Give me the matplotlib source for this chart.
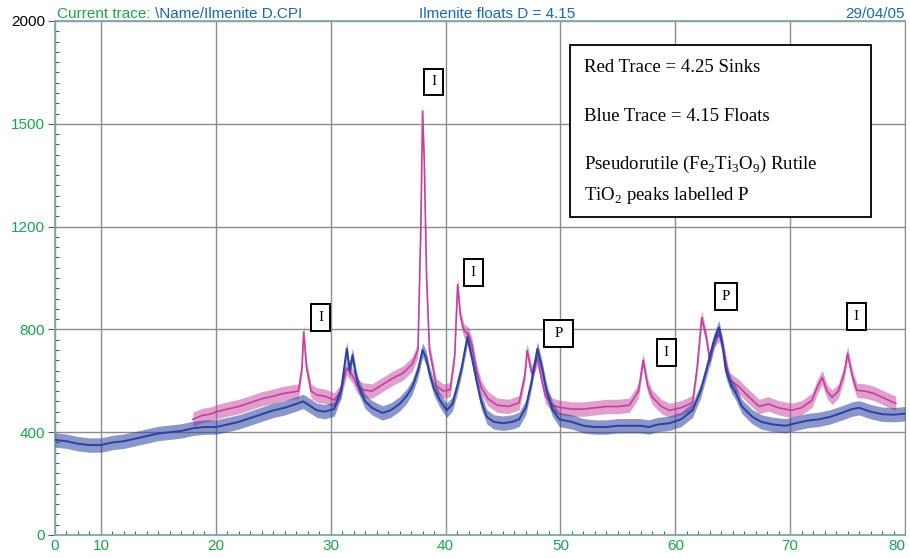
import matplotlib.pyplot as plt
from matplotlib.patches import Rectangle
import numpy as np

# ---- data (2-theta, counts) ----
blue_x = [6, 7, 8, 9, 10, 11, 12, 13, 14, 15, 16, 17, 18, 19, 20, 21, 22, 23, 24, 25,
          26, 27, 27.6, 28.3, 28.8, 29.5, 30.3, 30.9, 31.4, 31.65, 31.9, 32.2, 32.5, 33,
          33.6, 34.5, 35.2, 36, 36.6, 37.1, 37.6, 38.0, 38.3, 38.6, 39, 39.5, 40.1, 40.6,
          41, 41.4, 41.9, 42.3, 42.7, 43.1, 43.6, 44.2, 45, 45.8, 46.4, 47, 47.5, 48,
          48.4, 48.8, 49.3, 49.9, 51, 52, 53, 54, 55, 56, 57, 57.7, 58.5, 59.5, 60.5,
          61.5, 62.2, 62.7, 63.3, 63.8, 64.1, 64.4, 64.9, 65.3, 65.8, 66.7, 67.5, 68.5,
          69.6, 70.5, 71.5, 72.5, 73.5, 74.5, 75.4, 76, 77, 78, 79, 80]
blue_y = [370, 365, 355, 350, 350, 360, 365, 375, 385, 395, 400, 405, 415, 420, 420, 430,
          440, 455, 470, 485, 495, 510, 520, 500, 485, 480, 490, 560, 725, 640, 700, 620,
          570, 520, 495, 475, 485, 510, 540, 575, 640, 720, 690, 630, 570, 525, 485, 510,
          575, 650, 770, 690, 600, 520, 460, 440, 435, 440, 450, 497, 600, 725, 650, 560,
          490, 450, 440, 425, 420, 420, 425, 425, 425, 420, 430, 435, 450, 485, 560, 640,
          745, 808, 740, 640, 580, 550, 500, 460, 440, 430, 425, 435, 445, 450, 460, 475,
          490, 495, 480, 470, 468, 472]

red_x = [18, 18.8, 19.5, 20.1, 21, 22, 23, 24, 25, 25.8, 26.5, 27.2, 27.5, 27.65, 27.9,
         28.3, 28.8, 29.5, 30.3, 30.9, 31.4, 31.9, 32.3, 32.8, 33.6, 34.5, 35.4, 36.3,
         37.1, 37.6, 37.85, 38.0, 38.15, 38.35, 38.6, 39.2, 39.8, 40.4, 40.8, 41.05,
         41.3, 41.6, 42.0, 42.3, 42.7, 43.1, 43.7, 44.5, 45.5, 46.4, 46.9, 47.1, 47.5,
         48.0, 48.3, 48.7, 49.3, 49.9, 51, 52, 53, 54, 55, 56, 56.8, 57.2, 57.6, 58.0,
         58.8, 59.5, 60.5, 61.5, 61.9, 62.3, 62.7, 63.0, 63.4, 63.8, 64.1, 64.7, 65.6,
         66.1, 67.3, 68.1, 69, 70.1, 71, 71.9, 72.4, 72.8, 73.2, 73.65, 74.2, 74.7,
         75.0, 75.4, 75.8, 76.5, 77.3, 78.3, 79.2]
red_y = [450, 465, 470, 480, 490, 500, 515, 530, 540, 550, 555, 560, 650, 790, 650, 560,
         545, 540, 525, 560, 650, 620, 580, 565, 560, 585, 610, 630, 665, 720, 1200, 1650,
         1450, 1000, 720, 580, 560, 565, 700, 975, 850, 795, 780, 740, 640, 575, 530, 505,
         500, 515, 620, 718, 630, 690, 620, 540, 505, 497, 490, 490, 495, 500, 500, 505,
         560, 680, 580, 536, 500, 485, 495, 515, 650, 846, 770, 680, 760, 780, 745, 605,
         575, 551, 500, 510, 495, 485, 495, 524, 580, 613, 560, 536, 560, 630, 707, 620,
         563, 560, 551, 530, 512]

noise = 28  # half-width of the counting noise band

peak_labels = ["I", "I", "I", " P ", "I", "P", "I"]
peak_x = [29.13, 38.96, 42.43, 49.83, 59.22, 64.43, 75.74]
peak_y = [847, 1763, 1021, 784, 711, 928, 850]

x_ticks = [6, 10, 20, 30, 40, 50, 60, 70, 80]
x_ticklabels = ["0", "10", "20", "30", "40", "50", "60", "70", "80"]
y_ticks = [0, 400, 800, 1200, 1600, 2000]
y_ticklabels = ["0", "400", "800", "1200", "1500", "2000"]

legend_lines = ["Red Trace = 4.25 Sinks",
                "Blue Trace = 4.15 Floats",
                r"Pseudorutile (Fe$_\mathrm{2}$Ti$_\mathrm{3}$O$_\mathrm{9}$) Rutile",
                r"TiO$_\mathrm{2}$ peaks labelled P"]

GREEN = "#17a64b"
BLUE_TXT = "#1a66b8"
RED = "#c4409e"
BLUE = "#2c40a0"
SPINE = "#7fa8a8"

plt.rcParams["mathtext.fontset"] = "custom"
plt.rcParams["mathtext.rm"] = "Liberation Serif"
plt.rcParams["font.family"] = "Liberation Sans"

fig = plt.figure(figsize=(9.1, 5.58), dpi=100)
ax = fig.add_axes([55 / 910, 1 - 535 / 558, 850 / 910, 514 / 558])
ax.set_xlim(6, 80)
ax.set_ylim(0, 2000)

rx, ry = np.array(red_x), np.array(red_y)
bx, by = np.array(blue_x), np.array(blue_y)
ax.fill_between(rx, ry - noise, ry + noise, color=RED, alpha=0.5, lw=0, zorder=2)
ax.plot(rx, ry, color=RED, lw=1.2, zorder=3)
ax.fill_between(bx, by - noise, by + noise, color=BLUE, alpha=0.55, lw=0, zorder=4)
ax.plot(bx, by, color=BLUE, lw=1.4, zorder=5)

ax.set_xticks(x_ticks)
ax.set_xticklabels(x_ticklabels)
ax.set_yticks(y_ticks)
ax.set_yticklabels(y_ticklabels)
ax.set_xticks(np.arange(6, 81, 1), minor=True)
ax.set_yticks(np.arange(0, 2001, 40), minor=True)

ax.tick_params(axis="x", which="major", length=0, labelsize=11, labelcolor=GREEN, pad=3)
ax.tick_params(axis="y", which="major", direction="out", length=5, color="#556", labelsize=11, pad=2)
ax.tick_params(which="minor", direction="in", length=3, color="#2f6f6f", width=0.8)
for lbl, t in zip(ax.get_yticklabels(), y_ticklabels):
    lbl.set_color("black" if t == "2000" else GREEN)
ax.get_xticklabels()[-1].set_horizontalalignment("right")

ax.grid(True, which="major", color="#8c8c8c", lw=1.0)
for side in ["left", "top", "bottom"]:
    ax.spines[side].set_color(SPINE)
    ax.spines[side].set_linewidth(1.3)
ax.spines["right"].set_color("#8c8c8c")

for s, px, py in zip(peak_labels, peak_x, peak_y):
    ax.text(px, py, s, ha="center", va="center", fontsize=11, family="Liberation Serif",
            zorder=6, bbox=dict(boxstyle="square,pad=0.45", fc="white", ec="black", lw=1.4))

# legend box
fig.patches.append(Rectangle((570 / 910, 1 - 217 / 558), 301 / 910, 172 / 558,
                             transform=fig.transFigure, fc="white", ec="black", lw=1.3))
for s, yb in zip(legend_lines, [72, 121, 169, 200]):
    fig.text(584 / 910, 1 - yb / 558, s, ha="left", va="baseline",
             fontsize=13.5, family="Liberation Serif")

# header
t1 = fig.text(57 / 910, 1 - 18 / 558, "Current trace: ", color=GREEN, fontsize=11, va="baseline")
ax.annotate(r"\Name/Ilmenite D.CPI", xy=(1, 0), xycoords=t1, va="bottom", ha="left",
            color=BLUE_TXT, fontsize=11)
fig.text(497 / 910, 1 - 18 / 558, "Ilmenite floats D = 4.15", color=BLUE_TXT, fontsize=11,
         ha="center", va="baseline")
fig.text(905 / 910, 1 - 18 / 558, "29/04/05", color=BLUE_TXT, fontsize=11,
         ha="right", va="baseline")

fig.savefig("out.png", dpi=100)
